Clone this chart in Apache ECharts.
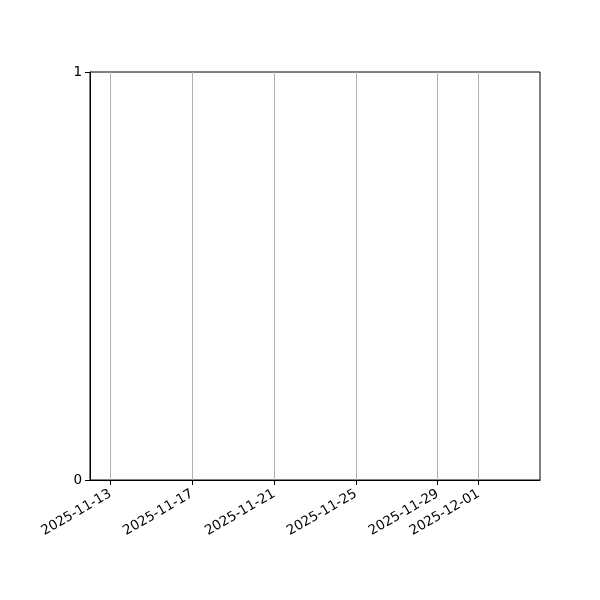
<!DOCTYPE html>
<html>
<head>
<meta charset="utf-8">
<script src="https://cdn.jsdelivr.net/npm/echarts@6/dist/echarts.min.js"></script>
<style>html,body{margin:0;padding:0;background:#fff}#c{width:600px;height:600px}</style>
</head>
<body>
<div id="c"></div>
<script>
const xRangeStart = '2025-11-12';
const xRangeEnd = '2025-12-04';
const xTickLabels = ['2025-11-13', '2025-11-17', '2025-11-21', '2025-11-25', '2025-11-29', '2025-12-01'];
const yTicks = [0, 1];
const seriesValues = [];

function toTs(s) { const p = s.split('-').map(Number); return new Date(p[0], p[1] - 1, p[2]).getTime(); }
function pad(n) { return (n < 10 ? '0' : '') + n; }
function fmt(v) { const d = new Date(v); return d.getFullYear() + '-' + pad(d.getMonth() + 1) + '-' + pad(d.getDate()); }

const xTicks = xTickLabels.map(toTs);
const chart = echarts.init(document.getElementById('c'), null, { renderer: 'canvas' });
const font = 'DejaVu Sans';
chart.setOption({
  animation: false,
  backgroundColor: '#fff',
  grid: { left: 90, right: 60, top: 72, bottom: 120, show: true, borderColor: '#000', borderWidth: 1, backgroundColor: 'transparent' },
  xAxis: {
    type: 'value',
    scale: true,
    min: toTs(xRangeStart),
    max: toTs(xRangeEnd),
    axisLine: { show: true, onZero: false, lineStyle: { color: '#000', width: 1 } },
    axisTick: { show: true, inside: false, length: 5, lineStyle: { color: '#000' }, customValues: xTicks },
    axisLabel: { customValues: xTicks, rotate: 30, color: '#000', fontFamily: font, fontSize: 13.5, margin: 13, formatter: v => fmt(v), hideOverlap: false },
    splitLine: { show: true, lineStyle: { color: '#b0b0b0', width: 1 } }
  },
  yAxis: {
    type: 'value',
    min: yTicks[0],
    max: yTicks[yTicks.length - 1],
    interval: 1,
    axisLine: { show: true, onZero: false, lineStyle: { color: '#000', width: 1 } },
    axisTick: { show: true, inside: false, length: 5, lineStyle: { color: '#000' } },
    axisLabel: { color: '#000', fontFamily: font, fontSize: 13.5, margin: 8, padding: [3, 0, 0, 0] },
    splitLine: { show: false }
  },
  series: [{ type: 'line', data: seriesValues, showSymbol: false }]
});
</script>
</body>
</html>
